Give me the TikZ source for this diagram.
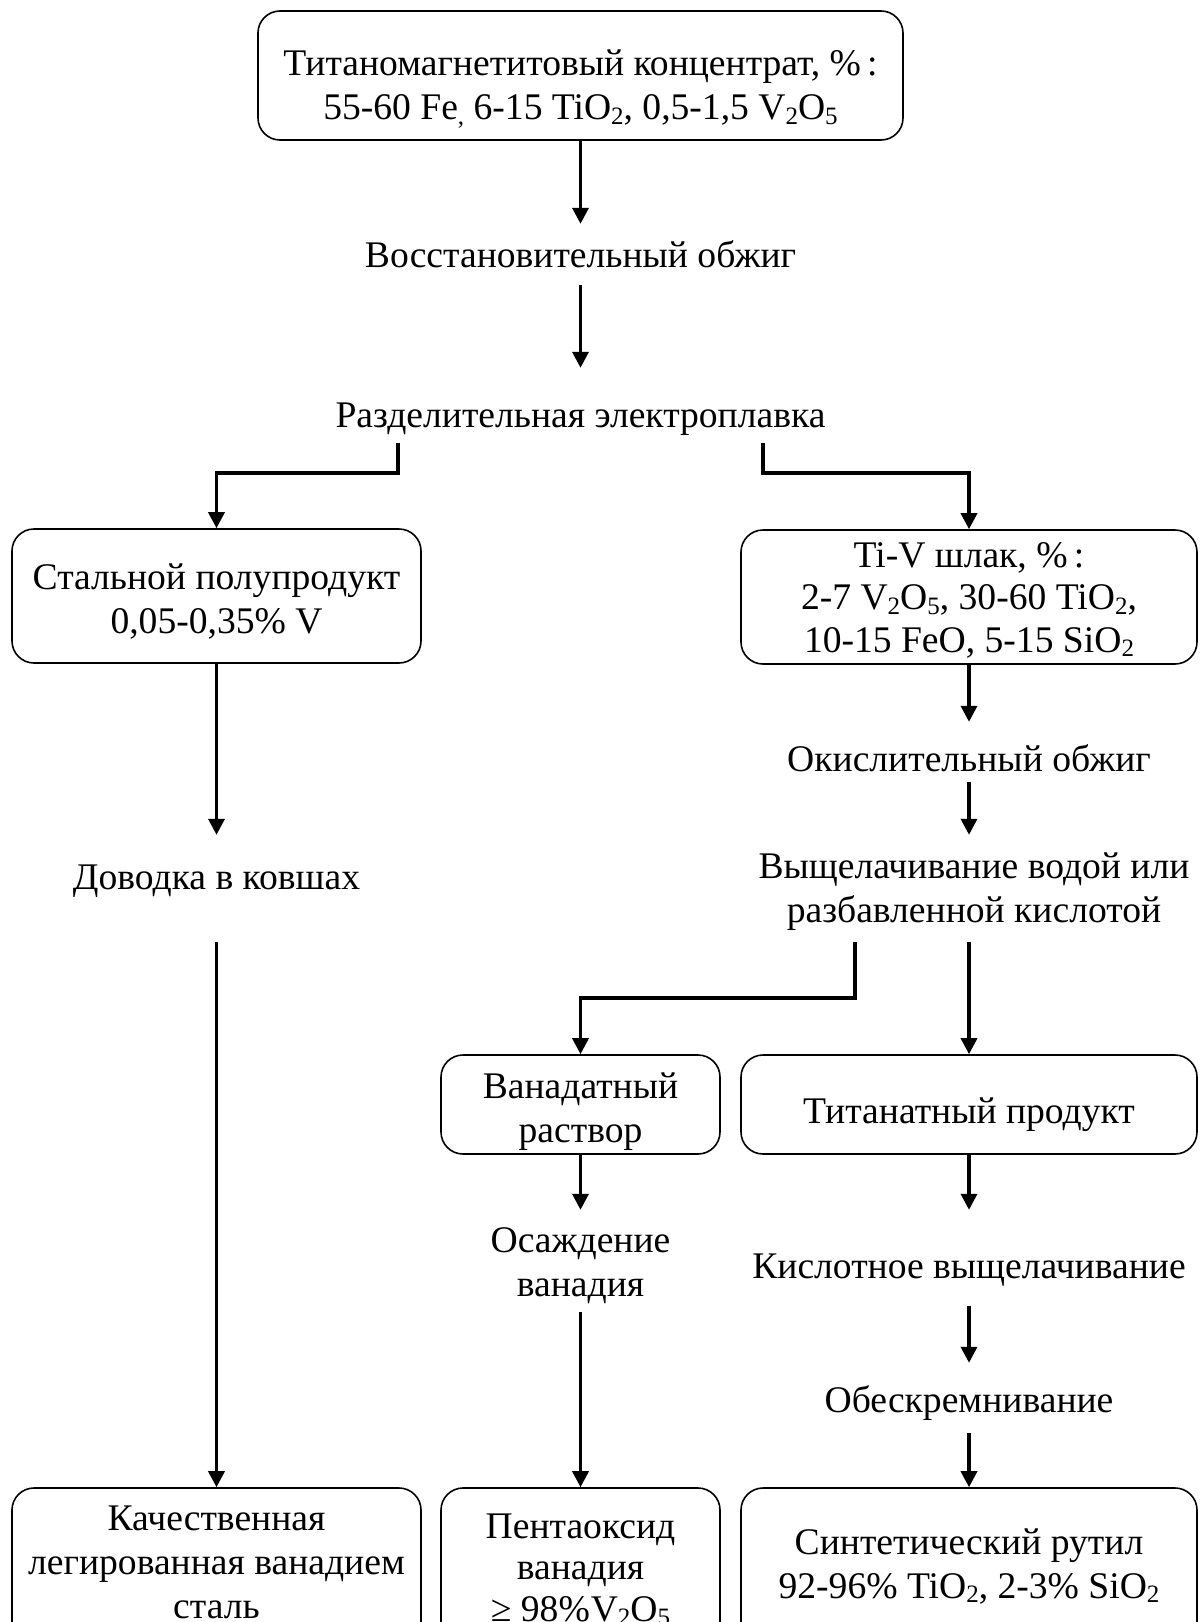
\documentclass[tikz,border=0pt]{standalone}
\usepackage{fontspec}
\setmainfont{Liberation Serif}
\usetikzlibrary{arrows.meta}
\newcommand\sbs[1]{\raisebox{-4.5pt}{\fontsize{25}{25}\selectfont #1}}
\tikzset{
  txt/.style={inner sep=0pt, align=center, anchor=base, font=\fontsize{37.6}{44}\selectfont},
  box/.style={txt, draw, line width=1.6pt, rounded corners=22pt},
  conn/.style={line width=3.5pt, -{Triangle[width=16pt,length=16pt]}},
}
\begin{document}
\begin{tikzpicture}[x=1pt,y=-1pt]
\useasboundingbox (0,0) rectangle (1201,1622);
\fill[white] (0,0) rectangle (1201,1622);
\clip (0,0) rectangle (1201,1622);

% multi-line nodes are placed by the baseline of their last line
% top
\node[box, minimum width=645pt, text height=108.5pt, text depth=20.5pt] (conc) at (580.5,119.5)
  {Титаномагнетитовый концентрат, \%\,:\\55-60 Fe\sbs{,} 6-15 TiO\sbs{2}, 0,5-1,5 V\sbs{2}O\sbs{5}};
\node[txt, text height=43pt, text depth=18pt] (restore) at (580.5,267) {Восстановительный обжиг};
\node[txt, text height=59pt, text depth=16pt] (elec) at (580.5,427) {Разделительная электроплавка};
\coordinate (eL) at (398,443);
\coordinate (eR) at (763,443);

% boxes after split
\node[box, minimum width=409pt, text height=104pt, text depth=30pt] (steel) at (216.5,633)
  {Стальной полупродукт\\0,05-0,35\% V};
\node[box, minimum width=456pt, text height=122pt, text depth=12pt, font=\fontsize{37.6}{42.5}\selectfont] (slag) at (969,652)
  {Ti-V шлак, \%\,:\\2-7 V\sbs{2}O\sbs{5}, 30-60 TiO\sbs{2},\\10-15 FeO, 5-15 SiO\sbs{2}};

% left column
\node[txt, text height=54pt, text depth=53pt] (dov) at (216.5,889) {Доводка в ковшах};
\node[box, minimum width=409pt, text height=130pt, text depth=60pt] (qual) at (216.5,1618)
  {Качественная\\легированная ванадием\\сталь};

% right column
\node[txt, text height=49pt, text depth=11pt] (oxid) at (969,771) {Окислительный обжиг};
\node[txt, text height=87pt, text depth=20pt] (leach) at (974,922)
  {Выщелачивание водой или\\разбавленной кислотой};
\coordinate (lL) at (855,942);

\node[box, minimum width=279pt, text height=87pt, text depth=12pt] (vanad) at (580.5,1142)
  {Ванадатный\\раствор};
\node[box, minimum width=456pt, text height=68.5pt, text depth=30.5pt] (titan) at (969,1123.5)
  {Титанатный продукт};

\node[txt, text height=86pt, text depth=16pt] (osazh) at (580.5,1296) {Осаждение\\ванадия};
\node[box, minimum width=279pt, text height=133pt, text depth=60pt, font=\fontsize{37.6}{41.5}\selectfont] (pent) at (580.5,1621)
  {Пентаоксид\\ванадия\\≥ 98\%\kern1pt V\sbs{2}O\sbs{5}};

\node[txt, text height=68pt, text depth=28pt] (acid) at (969,1278) {Кислотное выщелачивание};
\node[txt, text height=49pt, text depth=21pt] (desil) at (969,1412) {Обескремнивание};
\node[box, minimum width=456pt, text height=110pt, text depth=60pt] (rutil) at (969,1598)
  {Синтетический рутил\\92-96\% TiO\sbs{2}, 2-3\% SiO\sbs{2}};

% connectors
\draw[conn] (conc.south) -- (restore.north);
\draw[conn] (restore.south) -- (elec.north);
\draw[conn] (eL) -- ++(0,30) -| (steel.north);
\draw[conn] (eR) -- ++(0,30) -| (slag.north);
\draw[conn] (steel.south) -- (dov.north);
\draw[conn] (dov.south) -- (qual.north);
\draw[conn] (slag.south) -- (oxid.north);
\draw[conn] (oxid.south) -- (oxid.south |- leach.north);
\draw[conn] (lL) -- ++(0,56) -| (vanad.north);
\draw[conn] (leach.south -| titan.north) -- (titan.north);
\draw[conn] (vanad.south) -- (osazh.north);
\draw[conn] (osazh.south) -- (pent.north);
\draw[conn] (titan.south) -- (acid.north);
\draw[conn] (acid.south) -- (desil.north);
\draw[conn] (desil.south) -- (rutil.north);
\end{tikzpicture}
\end{document}
